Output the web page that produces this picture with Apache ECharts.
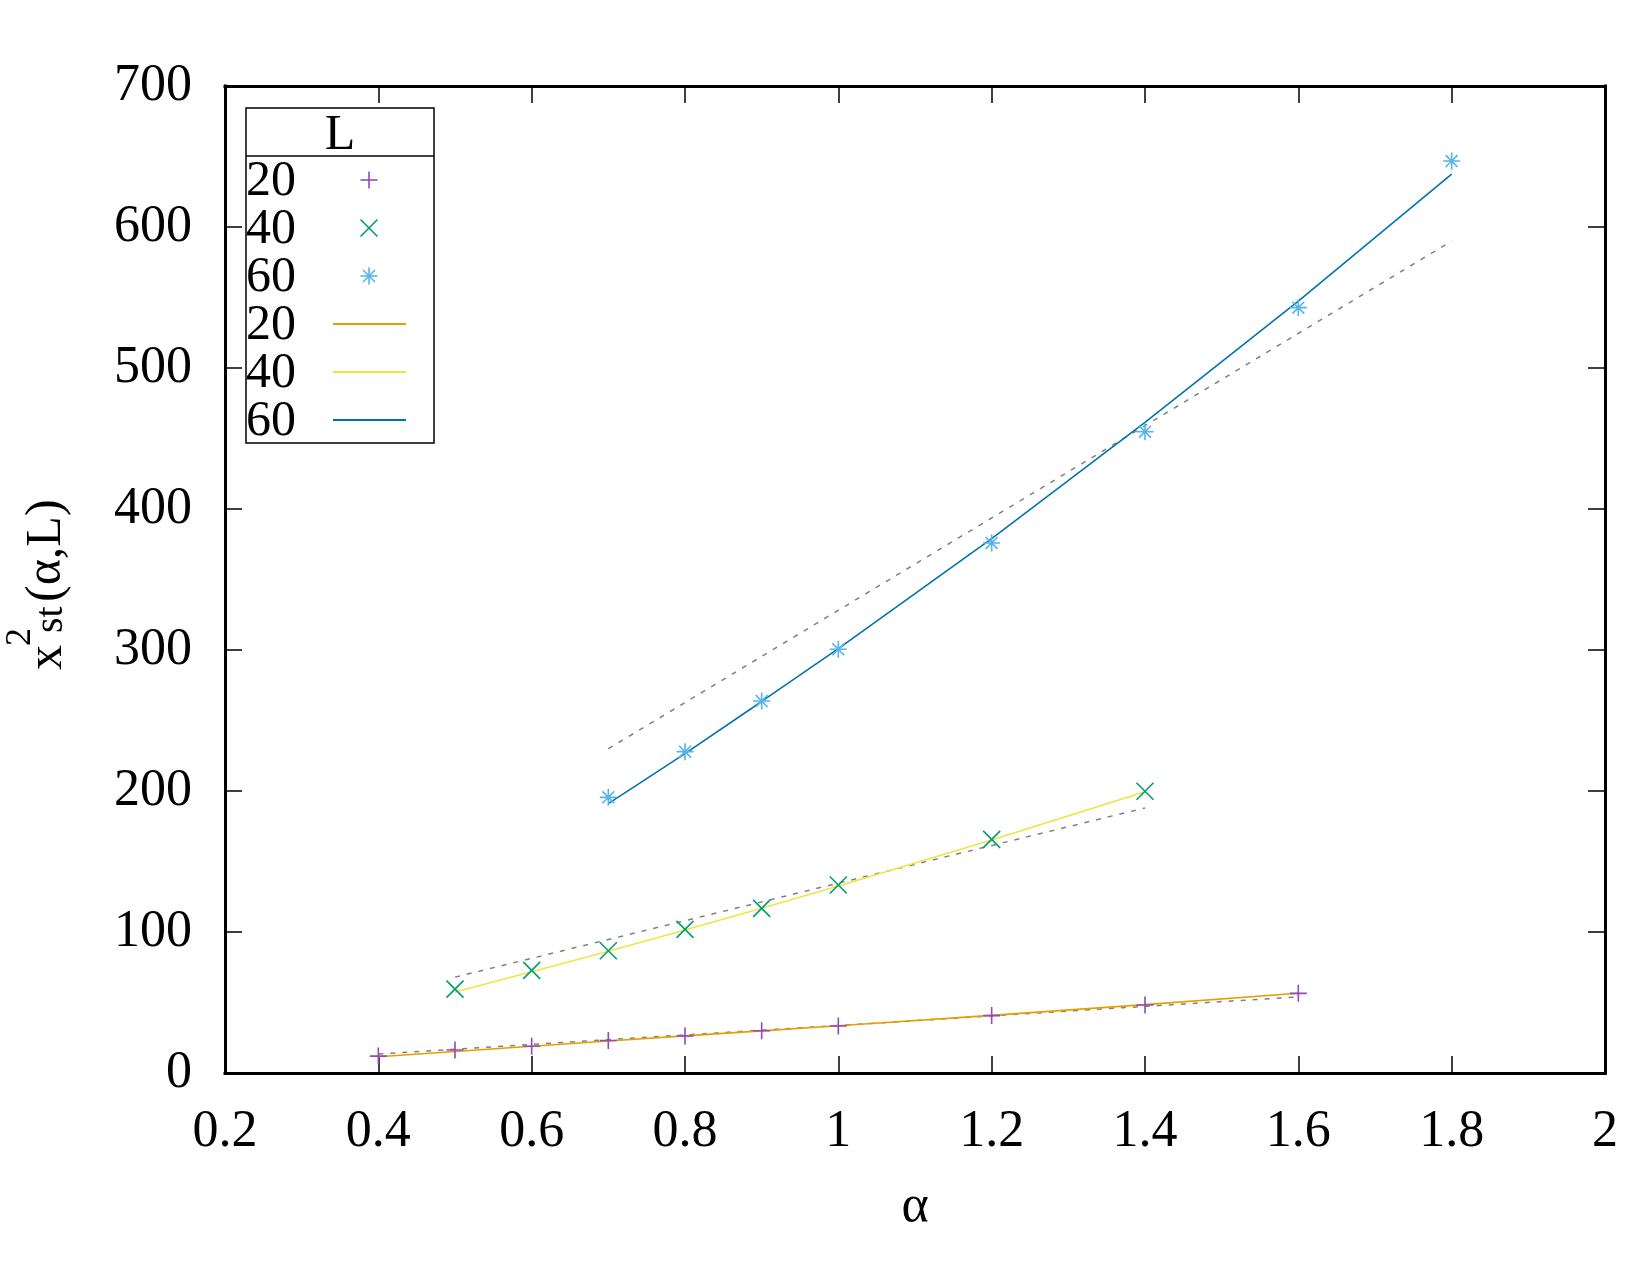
<!DOCTYPE html>
<html>
<head>
<meta charset="utf-8">
<script src="https://cdn.jsdelivr.net/npm/echarts@6/dist/echarts.min.js"></script>
<style>
  html, body { margin: 0; padding: 0; background: #fff; }
  #chart { width: 1650px; height: 1275px; }
</style>
</head>
<body>
<div id="chart"></div>
<script>
// data
const alpha20 = [0.4, 0.5, 0.6, 0.7, 0.8, 0.9, 1.0, 1.2, 1.4, 1.6]
const chi20 = [12, 16.3, 19, 23, 26.2, 30, 33.3, 40.7, 48.2, 56.5]
const fit20 = [11.5, 15.3, 19.0, 22.7, 26.3, 29.9, 33.5, 40.9, 48.5, 56.6]

const alpha40 = [0.5, 0.6, 0.7, 0.8, 0.9, 1.0, 1.2, 1.4]
const chi40 = [59.5, 72.8, 86.7, 101.9, 116.8, 133.3, 165.7, 199.8]
const fit40 = [57.5, 71.8, 86.4, 101.4, 116.8, 132.6, 165.3, 199.5]

const alpha60 = [0.7, 0.8, 0.9, 1.0, 1.2, 1.4, 1.6, 1.8]
const chi60 = [195.5, 227.9, 263.8, 300.5, 375.9, 454.8, 542.8, 646.8]
const fit60 = [191, 226.5, 263.5, 301, 379, 461.5, 547.5, 637.5]

// dashed guide lines (end points)
const guideX20 = [0.4, 1.6]
const guide20 = [13.5, 54]
const guideX40 = [0.5, 1.4]
const guide40 = [68, 188]
const guideX60 = [0.7, 1.8]
const guide60 = [230, 590]

const legendLabels = ['20', '40', '60', '20', '40', '60']

const FONT = '"Liberation Serif", "DejaVu Serif", serif'
const colors = {
  p20: '#9448bc', p40: '#009e73', p60: '#56b4e9',
  l20: '#e69f00', l40: '#f0e442', l60: '#0072b2'
}

const PLUS = 'path://M0,5L10,5M5,0L5,10'
const CROSS = 'path://M0,0L10,10M10,0L0,10'
const STAR = 'path://M0,5L10,5M5,0L5,10M1.5,1.5L8.5,8.5M8.5,1.5L1.5,8.5'

const zip = (xs, ys) => xs.map((x, i) => [x, ys[i]])

const pointSeries = (name, xs, ys, symbol, color) => ({
  name: name,
  type: 'scatter',
  data: zip(xs, ys),
  symbol: symbol,
  symbolSize: 17,
  itemStyle: { color: color, borderColor: color, borderWidth: 1.6, opacity: 1 },
  z: 5
})

const lineSeries = (name, xs, ys, color) => ({
  name: name,
  type: 'line',
  data: zip(xs, ys),
  showSymbol: false,
  symbol: 'none',
  lineStyle: { color: color, width: 1.6 },
  z: 4
})

const guideSeries = (xs, ys) => ({
  type: 'line',
  data: zip(xs, ys),
  showSymbol: false,
  symbol: 'none',
  lineStyle: { color: '#808080', width: 1.5, type: [5, 7] },
  z: 3
})

// legend box drawn by hand (gnuplot style: label left, key right)
const legendGraphics = () => {
  const items = [
    { type: 'rect', shape: { x: 246, y: 108, width: 188, height: 335 },
      style: { fill: '#fff', stroke: '#000', lineWidth: 1.5 } },
    { type: 'line', shape: { x1: 246, y1: 156, x2: 434, y2: 156 },
      style: { stroke: '#000', lineWidth: 1.5 } },
    { type: 'text', x: 340, y: 136,
      style: { text: 'L', font: '50px ' + FONT, fill: '#000', textAlign: 'center', textVerticalAlign: 'middle' } }
  ]
  const keyColors = [colors.p20, colors.p40, colors.p60, colors.l20, colors.l40, colors.l60]
  legendLabels.forEach((lab, i) => {
    const cy = 180 + 48 * i
    items.push({ type: 'text', x: 246, y: cy + 2,
      style: { text: lab, font: '50px ' + FONT, fill: '#000', textAlign: 'left', textVerticalAlign: 'middle' } })
    const c = keyColors[i]
    const seg = (x1, y1, x2, y2) => items.push({ type: 'line', shape: { x1, y1, x2, y2 },
      style: { stroke: c, lineWidth: i < 3 ? 1.6 : 1.8 } })
    const cx = 369, h = 8.5
    if (i === 0 || i === 2) { seg(cx - h, cy, cx + h, cy); seg(cx, cy - h, cx, cy + h) }
    if (i === 1 || i === 2) {
      const d = i === 2 ? 6 : h
      seg(cx - d, cy - d, cx + d, cy + d); seg(cx + d, cy - d, cx - d, cy + d)
    }
    if (i >= 3) seg(333, cy, 406, cy)
  })
  return items
}

// y axis title x^2_st(α,L), rotated
const yTitle = {
  type: 'group', x: 0, y: 583, rotation: Math.PI / 2,
  children: [
    { type: 'text', x: -87, y: 48, style: { text: 'x', font: '50px ' + FONT, fill: '#000', textAlign: 'left', textVerticalAlign: 'middle' } },
    { type: 'text', x: -63, y: 21, style: { text: '2', font: '36px ' + FONT, fill: '#000', textAlign: 'left', textVerticalAlign: 'middle' } },
    { type: 'text', x: -50, y: 51, style: { text: 'st', font: '40px ' + FONT, fill: '#000', textAlign: 'left', textVerticalAlign: 'middle' } },
    { type: 'text', x: -19, y: 47, style: { text: '(α,L)', font: '50px ' + FONT, fill: '#000', textAlign: 'left', textVerticalAlign: 'middle' } }
  ]
}

const axisLine = { show: true, onZero: false, lineStyle: { color: '#000', width: 3, cap: 'square' } }
const axisTick = { show: true, inside: true, length: 17, lineStyle: { color: '#000', width: 1.5 } }
const labelStyle = { fontFamily: FONT, fontSize: 52, color: '#000', margin: 33 }

const chart = echarts.init(document.getElementById('chart'))
chart.setOption({
  animation: false,
  backgroundColor: '#fff',
  grid: { left: 225, right: 45, top: 86, bottom: 202, outerBoundsMode: 'none' },
  xAxis: [
    {
      type: 'value', position: 'bottom', min: 0.2, max: 2, interval: 0.2,
      axisLine: axisLine, axisTick: axisTick, splitLine: { show: false },
      axisLabel: Object.assign({}, labelStyle, { formatter: v => String(+v.toFixed(1)) }),
      name: 'α', nameLocation: 'middle', nameGap: 108,
      nameTextStyle: { fontFamily: FONT, fontSize: 52, color: '#000' }
    },
    {
      type: 'value', position: 'top', min: 0.2, max: 2, interval: 0.2,
      axisLine: axisLine, axisTick: axisTick, splitLine: { show: false },
      axisLabel: { show: false }
    }
  ],
  yAxis: [
    {
      type: 'value', position: 'left', min: 0, max: 700, interval: 100,
      axisLine: axisLine, axisTick: axisTick, splitLine: { show: false },
      axisLabel: labelStyle
    },
    {
      type: 'value', position: 'right', min: 0, max: 700, interval: 100,
      axisLine: axisLine, axisTick: axisTick, splitLine: { show: false },
      axisLabel: { show: false }
    }
  ],
  graphic: [yTitle].concat(legendGraphics()),
  series: [
    guideSeries(guideX20, guide20),
    guideSeries(guideX40, guide40),
    guideSeries(guideX60, guide60),
    pointSeries('20', alpha20, chi20, PLUS, colors.p20),
    pointSeries('40', alpha40, chi40, CROSS, colors.p40),
    pointSeries('60', alpha60, chi60, STAR, colors.p60),
    lineSeries('20 fit', alpha20, fit20, colors.l20),
    lineSeries('40 fit', alpha40, fit40, colors.l40),
    lineSeries('60 fit', alpha60, fit60, colors.l60)
  ]
})
</script>
</body>
</html>
